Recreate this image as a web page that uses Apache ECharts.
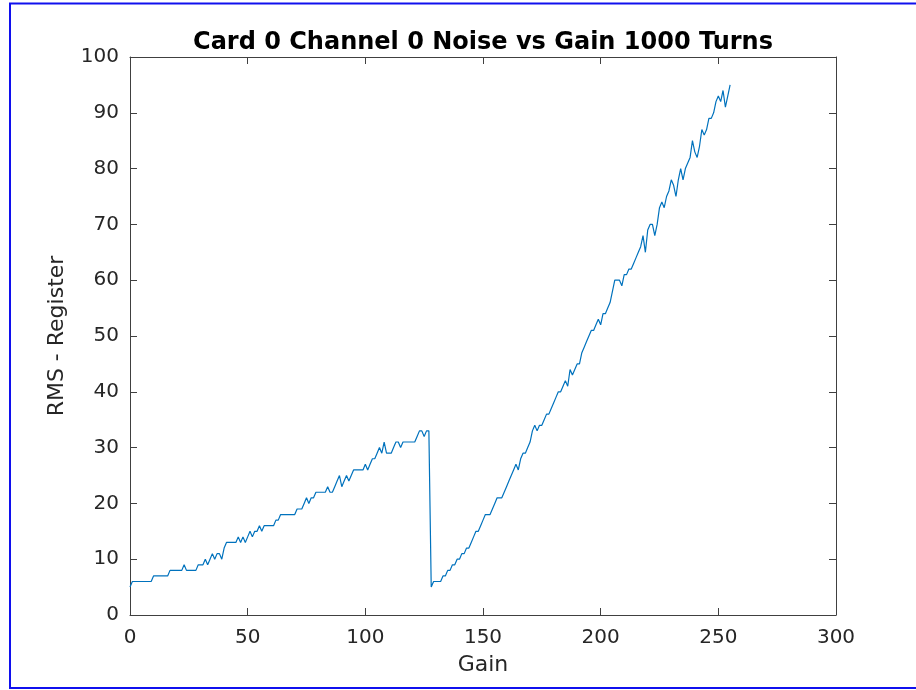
<!DOCTYPE html>
<html>
<head>
<meta charset="utf-8">
<script src="https://cdn.jsdelivr.net/npm/echarts@6/dist/echarts.min.js"></script>
<style>
html,body{margin:0;padding:0;background:#fff;}
#chart{width:916px;height:690px;}
</style>
</head>
<body>
<div id="chart"></div>
<script>
// Gain values 0..255
const gains = [
  0,1,2,3,4,5,6,7,8,9,10,11,12,13,14,15,16,17,18,19,20,21,22,23,24,25,26,27,28,29,
  30,31,32,33,34,35,36,37,38,39,40,41,42,43,44,45,46,47,48,49,50,51,52,53,54,55,56,57,58,59,
  60,61,62,63,64,65,66,67,68,69,70,71,72,73,74,75,76,77,78,79,80,81,82,83,84,85,86,87,88,89,
  90,91,92,93,94,95,96,97,98,99,100,101,102,103,104,105,106,107,108,109,110,111,112,113,114,115,116,117,118,119,
  120,121,122,123,124,125,126,127,128,129,130,131,132,133,134,135,136,137,138,139,140,141,142,143,144,145,146,147,148,149,
  150,151,152,153,154,155,156,157,158,159,160,161,162,163,164,165,166,167,168,169,170,171,172,173,174,175,176,177,178,179,
  180,181,182,183,184,185,186,187,188,189,190,191,192,193,194,195,196,197,198,199,200,201,202,203,204,205,206,207,208,209,
  210,211,212,213,214,215,216,217,218,219,220,221,222,223,224,225,226,227,228,229,230,231,232,233,234,235,236,237,238,239,
  240,241,242,243,244,245,246,247,248,249,250,251,252,253,254,255
];
// RMS register values
const rms = [
  5,6,6,6,6,6,6,6,6,6,
  7,7,7,7,7,7,7,8,8,8,
  8,8,8,9,8,8,8,8,8,9,
  9,9,10,9,10,11,10,11,11,10,
  12,13,13,13,13,13,14,13,14,13,
  14,15,14,15,15,16,15,16,16,16,
  16,16,17,17,18,18,18,18,18,18,
  18,19,19,19,20,21,20,21,21,22,
  22,22,22,22,23,22,22,23,24,25,
  23,24,25,24,25,26,26,26,26,26,
  27,26,27,28,28,29,30,29,31,29,
  29,29,30,31,31,30,31,31,31,31,
  31,31,32,33,33,32,33,33,
  5,6,
  6,6,6,7,7,8,8,9,9,10,
  10,11,11,12,12,13,14,15,15,16,
  17,18,18,18,19,20,21,21,21,22,
  23,24,25,26,27,26,28,29,29,30,
  31,33,34,33,34,34,35,36,36,37,
  38,39,40,40,41,42,41,44,43,44,
  45,45,47,48,49,50,51,51,52,53,
  52,54,54,55,56,58,60,60,60,59,
  61,61,62,62,63,64,65,66,68,65,
  69,70,70,68,70,73,74,73,75,76,
  78,77,75,78,80,78,80,81,82,85,
  83,82,84,87,86,87,89,89,90,92,
  93,92,94,91,93,95
];
const titleText = 'Card 0 Channel 0 Noise vs Gain 1000 Turns';
const xName = 'Gain';
const yName = 'RMS - Register';

const points = gains.map((g, i) => [g, rms[i]]);

const txt = '#262626';
const axCol = '#404040';
const font = 'DejaVu Sans';

const chart = echarts.init(document.getElementById('chart'), null, {renderer: 'canvas'});
const baseX = {
  type: 'value', min: 0, max: 300, interval: 50,
  axisLine: {show: true, onZero: false, lineStyle: {color: axCol, width: 1}},
  axisTick: {show: true, inside: true, length: 7, lineStyle: {color: axCol}},
  splitLine: {show: false}
};
const baseY = {
  type: 'value', min: 0, max: 100, interval: 10,
  axisLine: {show: true, onZero: false, lineStyle: {color: axCol, width: 1}},
  axisTick: {show: true, inside: true, length: 7, lineStyle: {color: axCol}},
  splitLine: {show: false}
};
chart.setOption({
  animation: false,
  backgroundColor: '#ffffff',
  title: {
    text: titleText, left: 478, top: 26, textAlign: 'center',
    textStyle: {fontFamily: font, fontWeight: 'bold', fontSize: 24, color: '#000'}
  },
  grid: {left: 130, right: 80, top: 57, bottom: 75, containLabel: false},
  xAxis: [
    Object.assign({}, baseX, {
      position: 'bottom', name: xName, nameLocation: 'middle', nameGap: 39,
      nameTextStyle: {fontFamily: font, fontSize: 22, color: txt},
      axisLabel: {show: true, margin: 13, fontFamily: font, fontSize: 20, color: txt}
    }),
    Object.assign({}, baseX, {position: 'top', axisLabel: {show: false}})
  ],
  yAxis: [
    Object.assign({}, baseY, {
      position: 'left', name: yName, nameLocation: 'middle', nameGap: 62,
      nameTextStyle: {fontFamily: font, fontSize: 22, color: txt},
      axisLabel: {show: true, margin: 11, fontFamily: font, fontSize: 20, color: txt}
    }),
    Object.assign({}, baseY, {position: 'right', axisLabel: {show: false}})
  ],
  series: [{
    type: 'line', xAxisIndex: 0, yAxisIndex: 0,
    data: points, showSymbol: false, symbol: 'none',
    lineStyle: {color: '#0072BD', width: 1.2}
  }],
  graphic: [{
    type: 'rect', silent: true,
    shape: {x: 10, y: 3.5, width: 1000, height: 684.5},
    style: {fill: 'none', stroke: '#1010ee', lineWidth: 2}
  }]
});
</script>
</body>
</html>
